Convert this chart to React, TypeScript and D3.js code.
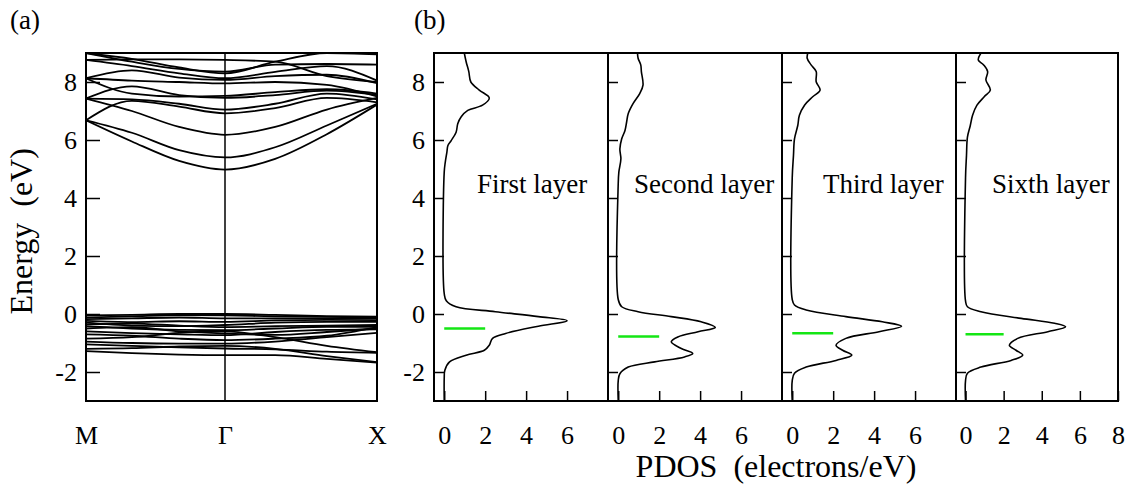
import React, { useEffect, useRef } from 'react';
import * as d3 from 'd3';

// k-path sample points: M = 0, Gamma = 1, X = 2
const kPoints = [0, 0.33, 0.67, 1, 1.33, 1.67, 2];
const kLabels = ['M', 'Γ', 'X'];
const energyTicks = [-2, 0, 2, 4, 6, 8];

// band energies (eV) read at kPoints
const valenceBands = [
  [-0.05, -0.03, 0.0, 0.0, -0.03, -0.07, -0.09],
  [-0.12, -0.08, -0.04, -0.05, -0.08, -0.1, -0.12],
  [-0.18, -0.15, -0.12, -0.15, -0.15, -0.15, -0.15],
  [-0.24, -0.28, -0.25, -0.27, -0.22, -0.2, -0.21],
  [-0.3, -0.4, -0.42, -0.38, -0.3, -0.27, -0.27],
  [-0.36, -0.33, -0.4, -0.45, -0.42, -0.4, -0.38],
  [-0.42, -0.5, -0.55, -0.56, -0.5, -0.44, -0.44],
  [-0.5, -0.45, -0.6, -0.67, -0.72, -0.62, -0.5],
  [-0.6, -0.66, -0.7, -0.73, -0.62, -0.55, -0.53],
  [-0.7, -0.75, -0.85, -0.9, -0.85, -0.75, -0.45],
  [-0.85, -0.8, -0.65, -0.6, -0.8, -1.1, -1.32],
  [-0.95, -1.0, -1.02, -1.02, -0.95, -0.8, -0.65],
  [-1.05, -1.1, -1.15, -1.19, -1.22, -1.3, -1.34],
  [-1.2, -1.18, -1.12, -1.1, -1.2, -1.45, -1.66],
  [-1.28, -1.35, -1.4, -1.42, -1.42, -1.55, -1.68],
];

const conductionBands = [
  [6.68, 5.95, 5.28, 4.98, 5.35, 6.2, 7.22],
  [6.68, 6.25, 5.65, 5.4, 5.75, 6.5, 7.25],
  [7.43, 7.0, 6.45, 6.18, 6.45, 7.05, 7.45],
  [6.68, 7.35, 7.15, 6.92, 7.1, 7.45, 7.3],
  [7.43, 7.4, 7.25, 7.05, 7.25, 7.6, 7.4],
  [7.43, 7.85, 7.55, 7.45, 7.55, 7.7, 7.55],
  [8.13, 7.6, 7.5, 7.52, 7.65, 7.75, 7.6],
  [8.13, 8.05, 8.0, 7.95, 8.0, 7.9, 7.5],
  [8.13, 8.4, 8.15, 8.07, 8.2, 8.25, 7.96],
  [8.76, 8.55, 8.3, 8.13, 8.35, 8.55, 8.05],
  [8.76, 8.78, 8.78, 8.76, 8.7, 8.2, 8.0],
  [9.0, 8.7, 8.45, 8.36, 8.6, 8.62, 8.6],
  [9.0, 8.8, 8.5, 8.3, 8.7, 9.0, 8.95],
];

// PDOS curves: [energy (eV), PDOS (electrons/eV)]
const firstLayer = [
  [9.0, 0.98], [8.7, 1.07], [8.36, 1.2], [8.0, 1.3], [7.72, 1.71], [7.45, 2.2], [7.2, 1.87],
  [7.02, 1.15], [6.8, 0.83], [6.56, 0.66], [6.27, 0.58], [5.98, 0.34], [5.81, 0.18], [5.58, 0.13],
  [5.23, 0.05], [4.9, 0], [0.7, 0], [0.46, 0.1], [0.25, 0.58], [0.08, 2.5], [-0.09, 4.6],
  [-0.23, 6.0], [-0.42, 4.6], [-0.67, 3.0], [-0.84, 2.36], [-1.08, 2.2], [-1.25, 1.96],
  [-1.42, 1.07], [-1.65, 0.26], [-1.94, 0.03], [-2.2, 0], [-3, 0],
];
const secondLayer = [
  [9.0, 0.94], [8.82, 0.97], [8.59, 1.1], [8.36, 1.13], [7.89, 1.21], [7.6, 1.05], [7.26, 0.73],
  [6.91, 0.49], [6.62, 0.41], [6.33, 0.33], [6.04, 0.17], [5.69, 0.08], [5.35, 0.13], [4.89, 0.03],
  [4.5, 0], [0.5, 0], [0.25, 0.17], [0.08, 0.97], [-0.09, 2.59], [-0.27, 4.05], [-0.46, 4.74],
  [-0.61, 3.9], [-0.79, 2.91], [-0.96, 2.59], [-1.19, 3.08], [-1.36, 3.64], [-1.48, 3.24],
  [-1.65, 1.78], [-1.83, 0.49], [-2.06, 0.08], [-2.3, 0], [-3, 0],
];
const thirdLayer = [
  [9.0, 0.76], [8.82, 0.73], [8.59, 0.92], [8.36, 1.17], [8.01, 1.17], [7.72, 1.36], [7.49, 1.0],
  [7.2, 0.6], [6.85, 0.35], [6.5, 0.27], [6.04, 0.11], [5.46, 0.06], [4.7, 0], [0.5, 0],
  [0.31, 0.11], [0.14, 0.68], [-0.09, 2.62], [-0.27, 4.4], [-0.42, 5.34], [-0.61, 4.24],
  [-0.84, 2.62], [-1.08, 2.14], [-1.25, 2.46], [-1.42, 2.91], [-1.6, 2.14], [-1.83, 0.68],
  [-2.04, 0.11], [-2.3, 0], [-3, 0],
];
const sixthLayer = [
  [9.0, 0.81], [8.76, 0.67], [8.59, 0.95], [8.36, 1.16], [8.07, 1.07], [7.72, 1.3], [7.49, 0.98],
  [7.2, 0.6], [6.85, 0.37], [6.5, 0.25], [6.1, 0.1], [5.46, 0.05], [4.7, 0], [0.45, 0],
  [0.25, 0.1], [0.08, 0.81], [-0.15, 2.92], [-0.32, 4.67], [-0.44, 5.25], [-0.61, 4.32],
  [-0.84, 2.74], [-1.08, 2.3], [-1.25, 2.65], [-1.42, 3.0], [-1.6, 2.39], [-1.83, 0.81],
  [-2.04, 0.1], [-2.3, 0], [-3, 0],
];
const layerNames = ['First layer', 'Second layer', 'Third layer', 'Sixth layer'];
const fermiMarks = [-0.5, -0.78, -0.66, -0.7];
const pdosTicks = [0, 2, 4, 6];
const pdosTicksLast = [0, 2, 4, 6, 8];

const FONT = "'Liberation Serif', 'Times New Roman', serif";

const App = () => {
  const svgRef = useRef<SVGSVGElement>(null);

  useEffect(() => {
    const svg = d3.select(svgRef.current);
    svg.selectAll('*').remove();
    const top = 53;
    const bottom = 401;
    const plain = (d: d3.NumberValue) => String(d);

    const ey = d3.scaleLinear().domain([-3, 9]).range([bottom, top]);

    // ---------- (a) band structure ----------
    const aLeft = 86;
    const aRight = 377;
    const kx = d3.scaleLinear().domain([0, 1, 2]).range([aLeft, 225, aRight]);

    const defs = svg.append('defs');
    defs.append('clipPath').attr('id', 'clip-a')
      .append('rect')
      .attr('x', aLeft).attr('y', top)
      .attr('width', aRight - aLeft).attr('height', bottom - top);

    const bandLine = d3.line<number>()
      .x((_, i) => kx(kPoints[i]))
      .y(d => ey(d))
      .curve(d3.curveMonotoneX);

    svg.append('g')
      .attr('clip-path', 'url(#clip-a)')
      .selectAll('path')
      .data([...valenceBands, ...conductionBands])
      .join('path')
      .attr('d', d => bandLine(d))
      .attr('fill', 'none')
      .attr('stroke', '#000')
      .attr('stroke-width', 1.8);

    svg.append('line')
      .attr('x1', kx(1)).attr('x2', kx(1))
      .attr('y1', top).attr('y2', bottom)
      .attr('stroke', '#000').attr('stroke-width', 1.5);

    const ayAxis = svg.append('g')
      .attr('transform', `translate(${aLeft},0)`)
      .call(d3.axisLeft(ey).tickValues(energyTicks).tickFormat(plain)
        .tickSizeInner(-14).tickSizeOuter(0).tickPadding(9));
    ayAxis.select('.domain').remove();
    ayAxis.selectAll('line').attr('stroke-width', 1.5);

    const axAxis = svg.append('g')
      .attr('transform', `translate(0,${bottom})`)
      .call(d3.axisBottom(kx).tickValues([0, 1, 2]).tickFormat((_, i) => kLabels[i])
        .tickSize(0).tickPadding(25));
    axAxis.select('.domain').remove();

    svg.append('rect')
      .attr('x', aLeft).attr('y', top)
      .attr('width', aRight - aLeft).attr('height', bottom - top)
      .attr('fill', 'none').attr('stroke', '#000').attr('stroke-width', 2);

    // ---------- (b) PDOS panels ----------
    const edges = [434, 608, 782, 956, 1118];
    const layers = [firstLayer, secondLayer, thirdLayer, sixthLayer];

    layers.forEach((layer, i) => {
      const left = edges[i];
      const right = edges[i + 1];
      const px = d3.scaleLinear().domain([-0.5, 8]).range([left, right]);
      const g = svg.append('g');

      defs.append('clipPath').attr('id', `clip-b${i}`)
        .append('rect')
        .attr('x', left).attr('y', top)
        .attr('width', right - left).attr('height', bottom - top);

      const pdosLine = d3.line<number[]>()
        .x(d => px(d[1]))
        .y(d => ey(d[0]))
        .curve(d3.curveCatmullRom.alpha(0.5));

      g.append('path')
        .attr('clip-path', `url(#clip-b${i})`)
        .attr('d', pdosLine(layer))
        .attr('fill', 'none')
        .attr('stroke', '#000')
        .attr('stroke-width', 1.6);

      g.append('line')
        .attr('x1', px(0)).attr('x2', px(2))
        .attr('y1', ey(fermiMarks[i])).attr('y2', ey(fermiMarks[i]))
        .attr('stroke', '#14e614').attr('stroke-width', 2.5);

      g.append('text')
        .attr('x', [477, 634, 823, 992][i])
        .attr('y', 193)
        .style('font-family', FONT)
        .style('font-size', '27px')
        .text(layerNames[i]);

      const yAxis = g.append('g')
        .attr('transform', `translate(${left},0)`)
        .call(d3.axisLeft(ey).tickValues(energyTicks).tickFormat(plain)
          .tickSizeInner(-10).tickSizeOuter(0).tickPadding(9));
      yAxis.select('.domain').remove();
      yAxis.selectAll('line').attr('stroke-width', 1.5);
      if (i > 0) yAxis.selectAll('text').remove();

      const xAxis = g.append('g')
        .attr('transform', `translate(0,${bottom})`)
        .call(d3.axisBottom(px).tickValues(i === 3 ? pdosTicksLast : pdosTicks)
          .tickFormat(plain)
          .tickSizeInner(-10).tickSizeOuter(0).tickPadding(25));
      xAxis.select('.domain').remove();
      xAxis.selectAll('line').attr('stroke-width', 1.5);

      g.append('rect')
        .attr('x', left).attr('y', top)
        .attr('width', right - left).attr('height', bottom - top)
        .attr('fill', 'none').attr('stroke', '#000').attr('stroke-width', 2);
    });

    // serif font for all tick labels
    svg.selectAll('.tick text')
      .attr('fill', '#000')
      .attr('font-family', FONT)
      .attr('font-size', 26)
      .style('font-family', FONT)
      .style('font-size', '26px');

    // titles
    svg.append('text')
      .attr('x', 10).attr('y', 29)
      .style('font-family', FONT).style('font-size', '27px')
      .text('(a)');
    svg.append('text')
      .attr('x', 414).attr('y', 29)
      .style('font-family', FONT).style('font-size', '27px')
      .text('(b)');
    svg.append('text')
      .attr('transform', `translate(32,${ey(2.85)}) rotate(-90)`)
      .attr('text-anchor', 'middle')
      .style('font-family', FONT).style('font-size', '32px')
      .style('white-space', 'pre')
      .text('Energy  (eV)');
    svg.append('text')
      .attr('x', 776).attr('y', 477)
      .attr('text-anchor', 'middle')
      .style('font-family', FONT).style('font-size', '32px')
      .style('white-space', 'pre')
      .text('PDOS  (electrons/eV)');
  }, []);

  return (
    <svg
      ref={svgRef}
      width={1138}
      height={488}
      style={{ position: 'absolute', left: 0, top: 0, background: '#fff' }}
    />
  );
};

export default App;
